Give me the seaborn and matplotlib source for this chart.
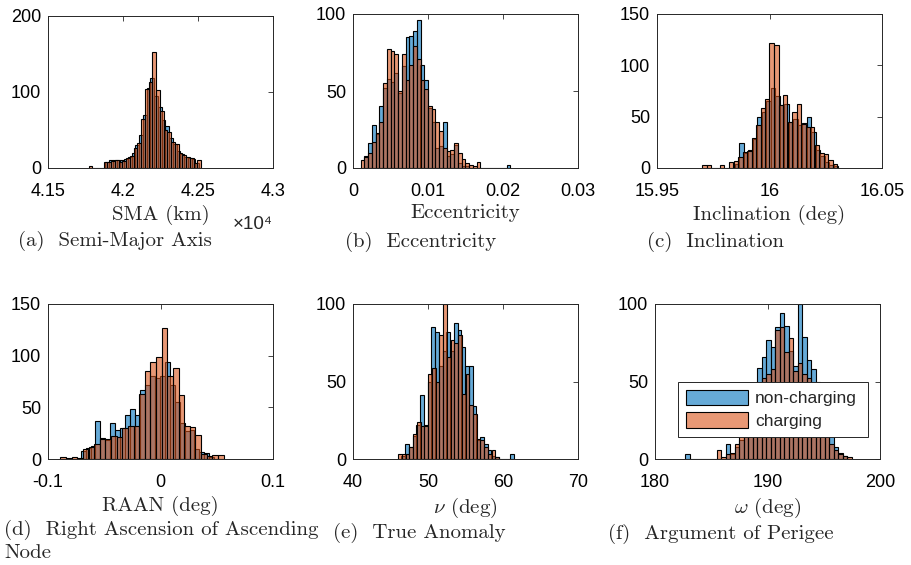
import numpy as np
import pandas as pd
import matplotlib
matplotlib.use("Agg")
import matplotlib.pyplot as plt
from matplotlib.ticker import FuncFormatter, FixedLocator
import seaborn as sns

# ---------------- data (bin start, bin width, counts per bin) ----------------
series_names = ["non-charging", "charging"]

sma_nc_start, sma_nc_width = 41883, 25
sma_nc_counts = [8, 10, 10, 11, 11, 12, 15, 20, 30, 44, 70, 105, 118, 95, 80, 63, 55, 40, 32, 22, 18, 15, 13, 12, 6]
sma_c_start, sma_c_width = 41771, 25
sma_c_counts = [3, 0, 0, 0, 8, 8, 9, 10, 8, 9, 13, 16, 26, 33, 65, 104, 113, 152, 102, 75, 50, 47, 34, 32, 20, 17, 15, 13, 7, 11]

ecc_nc_start, ecc_nc_width = 0.0015, 0.0005
ecc_nc_counts = [8, 16, 28, 22, 40, 52, 58, 56, 62, 49, 66, 85, 86, 89, 96, 67, 57, 39, 30, 13, 14, 30, 8, 9, 15, 3, 1, 1,
                 0, 0, 0, 0, 0, 0, 0, 0, 0, 0, 2]
ecc_c_start, ecc_c_width = 0.0010, 0.0005
ecc_c_counts = [5, 7, 10, 17, 23, 30, 55, 77, 76, 74, 50, 74, 57, 67, 79, 71, 57, 51, 40, 38, 30, 24, 13, 11, 12, 16, 10,
                6, 3, 2, 1, 4]

inc_nc_start, inc_nc_width = 15.9845, 0.002
inc_nc_counts = [4, 24, 15, 18, 28, 50, 55, 65, 78, 70, 61, 62, 45, 48, 42, 44, 50, 35, 18, 12, 6, 3, 2]
inc_c_start, inc_c_width = 15.970, 0.002
inc_c_counts = [3, 3, 0, 0, 3, 0, 6, 7, 11, 16, 17, 29, 42, 58, 67, 122, 120, 61, 71, 45, 55, 62, 43, 40, 40, 22, 15, 14, 8, 4]

raan_nc_start, raan_nc_width = -0.071, 0.0044
raan_nc_counts = [8, 11, 13, 37, 20, 18, 35, 28, 30, 43, 48, 43, 67, 72, 80, 78, 80, 94, 72, 55, 35, 27, 28, 10, 7, 6, 2]
raan_c_start, raan_c_width = -0.089, 0.005
raan_c_counts = [2, 1, 2, 1, 10, 12, 15, 19, 19, 22, 21, 30, 32, 32, 63, 85, 94, 99, 127, 80, 88, 62, 32, 31, 23, 5, 3, 4, 4]

nu_nc_start, nu_nc_width = 46.45, 0.5
nu_nc_counts = [2, 10, 8, 15, 22, 41, 22, 50, 85, 82, 60, 70, 82, 70, 88, 83, 72, 60, 60, 34, 12, 14, 10, 6, 2, 1, 0, 0, 0, 3]
nu_c_start, nu_c_width = 46.0, 0.5
nu_c_counts = [3, 3, 3, 8, 16, 24, 21, 21, 55, 59, 50, 80, 100, 66, 77, 75, 80, 42, 55, 35, 29, 13, 12, 8, 3, 6, 1]

aop_nc_start, aop_nc_width = 182.70, 0.4
aop_nc_counts = [3, 0, 0, 0, 0, 0, 0, 0, 0, 10, 3, 8, 12, 20, 30, 42, 59, 66, 77, 72, 85, 94, 86, 70, 60, 100, 79, 64, 58,
                 50, 35, 25, 15, 8, 4, 2]
aop_c_start, aop_c_width = 185.48, 0.4
aop_c_counts = [6, 1, 3, 4, 10, 18, 25, 35, 42, 45, 52, 55, 58, 83, 85, 69, 78, 57, 62, 55, 52, 40, 30, 22, 16, 10, 6, 3, 2, 1]

x_labels = ["SMA (km)", "Eccentricity", "Inclination (deg)", "RAAN (deg)", r"$\nu$ (deg)", r"$\omega$ (deg)"]
captions = ["(a)  Semi-Major Axis", "(b)  Eccentricity", "(c)  Inclination",
            "(d)  Right Ascension of Ascending\nNode", "(e)  True Anomaly", "(f)  Argument of Perigee"]
x_limits = [(41500, 43000), (0, 0.03), (15.95, 16.05), (-0.1, 0.1), (40, 70), (180, 200)]
x_ticks = [[41500, 42000, 42500, 43000], [0, 0.01, 0.02, 0.03], [15.95, 16.0, 16.05],
           [-0.1, 0, 0.1], [40, 50, 60, 70], [180, 190, 200]]
y_limits = [(0, 200), (0, 100), (0, 150), (0, 150), (0, 100), (0, 100)]
y_ticks = [[0, 100, 200], [0, 50, 100], [0, 50, 100, 150], [0, 50, 100, 150], [0, 50, 100], [0, 50, 100]]

panels = [
    ((sma_nc_start, sma_nc_width, sma_nc_counts), (sma_c_start, sma_c_width, sma_c_counts)),
    ((ecc_nc_start, ecc_nc_width, ecc_nc_counts), (ecc_c_start, ecc_c_width, ecc_c_counts)),
    ((inc_nc_start, inc_nc_width, inc_nc_counts), (inc_c_start, inc_c_width, inc_c_counts)),
    ((raan_nc_start, raan_nc_width, raan_nc_counts), (raan_c_start, raan_c_width, raan_c_counts)),
    ((nu_nc_start, nu_nc_width, nu_nc_counts), (nu_c_start, nu_c_width, nu_c_counts)),
    ((aop_nc_start, aop_nc_width, aop_nc_counts), (aop_c_start, aop_c_width, aop_c_counts)),
]

# ---------------- style ----------------
sns.set_theme(style="white")
plt.rcParams["font.family"] = ["Liberation Sans", "DejaVu Sans"]
plt.rcParams["mathtext.fontset"] = "cm"
plt.rcParams["axes.unicode_minus"] = False

colors = ["#0072BD", "#D95319"]
axis_col = "#262626"
serif = ["cmr10", "DejaVu Serif"]

W, H = 911, 565
fig = plt.figure(figsize=(W / 100, H / 100), dpi=100)

# axes boxes in pixels: left, top, right, bottom
boxes = [(48, 16, 273, 168), (353, 14, 578, 168), (657, 14, 882, 168),
         (48, 304, 273, 459), (353, 304, 578, 459), (655, 304, 880, 459)]
caption_pos = [(18, 241), (345, 242), (647, 242), (4, 541), (333, 533), (608, 534)]


def fmt(v, pos=None, scale=1.0):
    v = round(v / scale, 10) + 0.0
    return f"{v:g}"


for i, (box, series) in enumerate(zip(boxes, panels)):
    l, t, r, b = box
    ax = fig.add_axes([l / W, 1 - b / H, (r - l) / W, (b - t) / H])
    for name, col, (start, width, counts) in zip(series_names, colors, series):
        counts = np.asarray(counts, dtype=float)
        edges = start + width * np.arange(len(counts) + 1)
        df = pd.DataFrame({"value": edges[:-1] + width / 2, "count": counts})
        sns.histplot(data=df, x="value", weights="count", bins=[float(e) for e in edges], ax=ax,
                     color=col, alpha=0.6, edgecolor="black", linewidth=0.8,
                     label=name, stat="count")
    ax.set_xlim(*x_limits[i])
    ax.set_ylim(*y_limits[i])
    ax.xaxis.set_major_locator(FixedLocator(x_ticks[i]))
    ax.yaxis.set_major_locator(FixedLocator(y_ticks[i]))
    scale = 1e4 if i == 0 else 1.0
    ax.xaxis.set_major_formatter(FuncFormatter(lambda v, p, s=scale: fmt(v, p, s)))
    ax.yaxis.set_major_formatter(FuncFormatter(lambda v, p: fmt(v, p)))
    ax.tick_params(direction="in", length=3.5, width=0.6, colors=axis_col,
                   top=True, right=True, labelsize=13, labelcolor="black")
    ax.tick_params(axis="x", pad=10.5)
    ax.tick_params(axis="y", pad=5)
    for sp in ax.spines.values():
        sp.set_color(axis_col)
        sp.set_linewidth(0.7)
    ax.set_ylabel("")
    ax.set_xlabel(x_labels[i], fontsize=15, family=serif, labelpad=3.5)
    cx, cy = caption_pos[i]
    fig.text(cx / W, 1 - cy / H, captions[i], fontsize=15, family=serif,
             ha="left", va="center", linespacing=1.3)
    if i == 0:
        ax.text(1.0, -0.37, "×10⁴", transform=ax.transAxes, ha="right", va="center",
                fontsize=13.5)
    if i == 5:
        leg = ax.legend(loc="lower left", bbox_to_anchor=(0.102, 0.142, 0.845, 0.335),
                        mode="expand", borderaxespad=0, fancybox=False, framealpha=1.0,
                        edgecolor=axis_col, fontsize=12.5, handlelength=3.6, handleheight=1.0,
                        borderpad=0.45, labelspacing=0.35, handletextpad=0.4)
        leg.get_frame().set_linewidth(0.7)

fig.savefig("out.png", dpi=100)
